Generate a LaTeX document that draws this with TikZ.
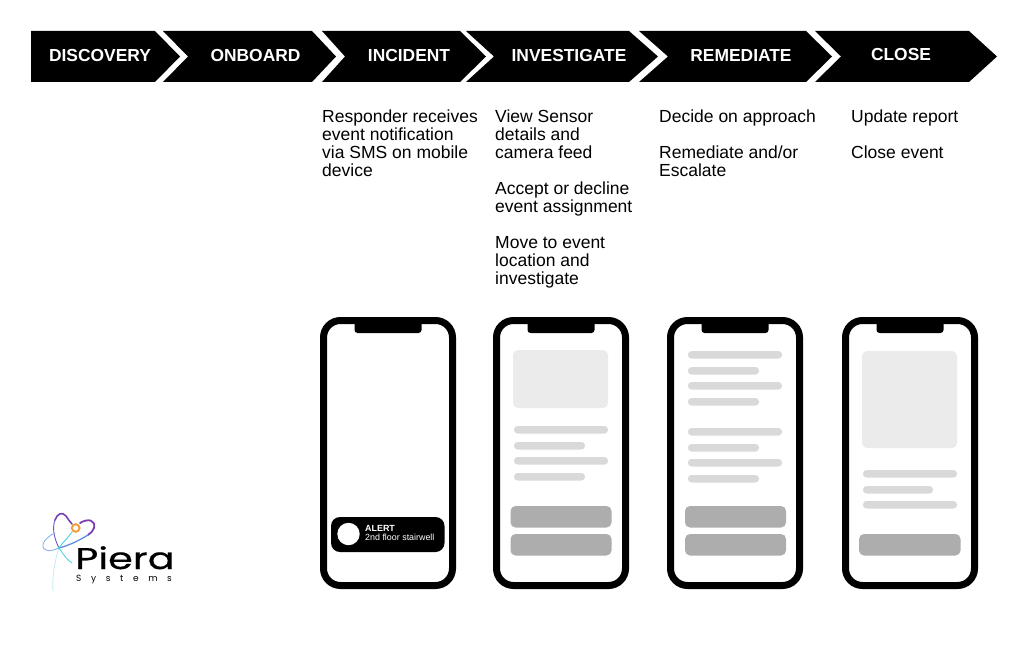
\documentclass[tikz,border=0pt]{standalone}
\usepackage{fontspec}
\setmainfont{Liberation Sans}
\newfontfamily\logofont[FakeBold=0.5]{Poppins}
\newfontfamily\logosmall[LetterSpace=107]{Poppins}
\definecolor{barGray}{HTML}{D9D9D9}
\definecolor{imageGray}{HTML}{EBEBEB}
\definecolor{buttonGray}{HTML}{ADADAD}
\definecolor{orbitPurple}{HTML}{7B3FB0}
\definecolor{orbitBlue}{HTML}{5B8FE0}
\definecolor{orbitCyan}{HTML}{45CFE0}
\definecolor{coreOrange}{HTML}{F0A040}
\begin{document}
\begin{tikzpicture}[x=1pt,y=-1pt]
        \tikzset{stage label/.style={text=white, inner sep=0pt, font=\fontsize{17.4}{17}\selectfont\bfseries}}
        \tikzset{step text/.style={anchor=north west, align=left, inner sep=0pt, font=\fontsize{17.5}{18}\selectfont}}
        \tikzset{phone body/.style={draw=black, fill=white, line width=7pt, rounded corners=17pt, minimum width=129pt, minimum height=265pt, inner sep=0pt}}
        \tikzset{text bar/.style={fill=barGray, rounded corners=3.5pt}}
        \tikzset{image box/.style={fill=imageGray, rounded corners=5pt}}
        \tikzset{action button/.style={fill=buttonGray, rounded corners=5pt}}
        \tikzset{orbit/.style={line width=1.3pt, line cap=round}}
        \useasboundingbox (0,0) rectangle (1024,658);
        % chevrons
        \foreach \xa/\xn/\xb/\xt in {31/31/155/180,163/188/312/336,322/345/460/486,466/494/629/658,639/668/806/832,815/841/969/997}{
          \fill[black] (\xa,31) -- (\xb,31) -- (\xt,56.5) -- (\xb,82) -- (\xa,82) -- (\xn,56.5) -- cycle;
        }
        \node[stage label] (discovery) at (100,56) {DISCOVERY};
        \node[stage label] (onboard) at (255.5,56) {ONBOARD};
        \node[stage label] (incident) at (409,56) {INCIDENT};
        \node[stage label] (investigate) at (569,56) {INVESTIGATE};
        \node[stage label] (remediate) at (741,56) {REMEDIATE};
        \node[stage label] (close) at (901,55) {CLOSE};
        % step texts
        \node[step text] (incident text) at (322,110) {Responder receives\\event notification\\via SMS on mobile\\device};
        \node[step text] (investigate text) at (495,110) {View Sensor\\details and\\camera feed\\[18pt]Accept or decline\\event assignment\\[18pt]Move to event\\location and\\investigate};
        \node[step text] (remediate text) at (659,110) {Decide on approach\\[18pt]Remediate and/or\\Escalate};
        \node[step text] (close text) at (851,110) {Update report\\[18pt]Close event};
        % phones
        \foreach \name/\xc in {one/388,two/561,three/735,four/910}{
          \node[phone body] (phone \name) at (\xc,453) {};
          \fill[black, rounded corners=3pt] (\xc-33.5,320) -- (\xc-33.5,333) -- (\xc+33.5,333) -- (\xc+33.5,320) -- cycle;
        }
        % alert
        \fill[black, rounded corners=9pt] (331,517) rectangle (444.5,552);
        \fill[white] (348.5,534) circle (11.2pt);
        \node[anchor=base west, inner sep=0pt, text=white, font=\fontsize{8.9}{9}\selectfont\bfseries] (alert title) at (365,531) {ALERT};
        \node[anchor=base west, inner sep=0pt, text=white, font=\fontsize{8.9}{9}\selectfont] (alert place) at (365,540.5) {2nd floor stairwell};
        % second phone
        \fill[image box] (513,350) rectangle (608,408);
        \foreach \xe/\yb in {608/426,585/442,608/457,585/473}{
          \fill[text bar] (514,\yb) rectangle (\xe,\yb+7.5);
        }
        \foreach \yb in {506,534}{
          \fill[action button] (510.5,\yb) rectangle (611.5,\yb+21.5);
        }
        % third phone
        \foreach \xe/\yb in {782/351,759/367,782/382,759/398,782/428,759/444,782/459,759/475}{
          \fill[text bar] (688,\yb) rectangle (\xe,\yb+7.5);
        }
        \foreach \yb in {506,534}{
          \fill[action button] (685,\yb) rectangle (786,\yb+21.5);
        }
        % fourth phone
        \fill[image box] (862,351) rectangle (957,448);
        \foreach \xe/\yb in {957/470,933/486,957/501}{
          \fill[text bar] (863,\yb) rectangle (\xe,\yb+7.5);
        }
        \fill[action button] (859,534) rectangle (960.5,555.5);
        % logo
        \draw[orbit, orbitPurple!70!orbitBlue, line width=0.9pt] (59,548) .. controls (54,538) and (52,528) .. (55,520);
        \draw[orbit, orbitPurple, line width=1.6pt] (55,520) .. controls (57,514) and (62,511) .. (66,516) .. controls (68,519) and (70,522) .. (72,524);
        \draw[orbit, orbitPurple, line width=1.8pt] (80,523) .. controls (88,518) and (96,520) .. (94,528) .. controls (93,531) and (91,533) .. (88,535);
        \draw[orbit, orbitBlue] (88,535) .. controls (78,541) and (70,545) .. (59,548);
        \draw[orbit, orbitBlue!70, line width=0.9pt] (59,548) .. controls (50,552) and (42,552) .. (43,544) .. controls (44,540) and (50,535) .. (55,533);
        \draw[orbit, orbitCyan, line width=0.9pt] (72,532) .. controls (68,538) and (62,543) .. (59,548);
        \draw[orbit, orbitCyan, line width=0.8pt] (59,548) .. controls (63,554) and (67,560) .. (72,563);
        \draw[orbit, orbitCyan!35, line width=0.8pt] (59,548) .. controls (55,560) and (52,575) .. (53,591);
        \fill[orbitCyan] (59,548) circle (1.3pt);
        \draw[coreOrange, line width=2pt, fill=white] (75.7,528) circle (3.8pt);
        \node[anchor=base west, inner sep=0pt, font=\fontsize{30}{30}\logofont] (logo name) at (75,569) {\scalebox{1.33}[1]{Piera}};
        \node[anchor=base west, inner sep=0pt, font=\fontsize{9}{9}\logosmall] (logo systems) at (76,581) {Systems};
      \end{tikzpicture}
\end{document}
